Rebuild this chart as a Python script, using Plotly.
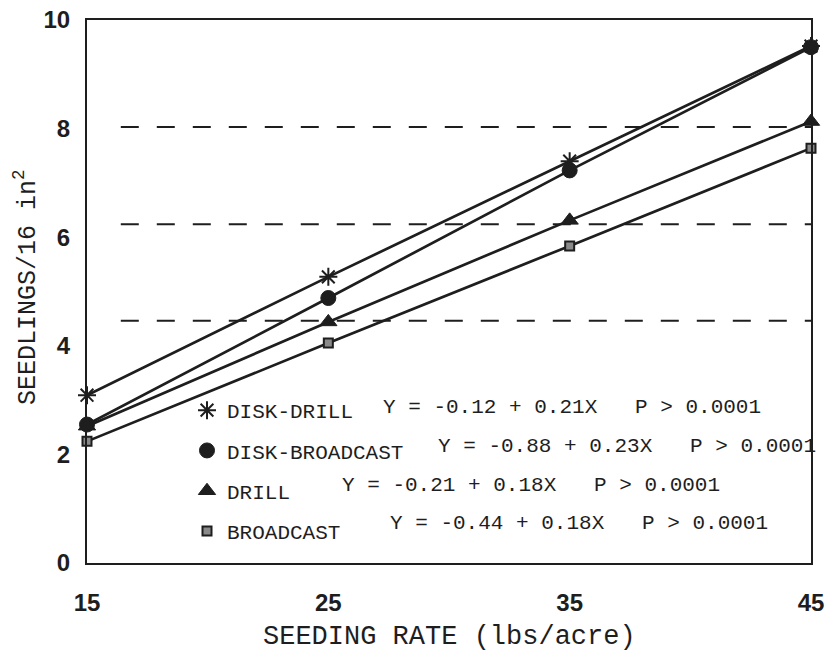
import plotly.graph_objects as go

# ---- data ----
rates = [15, 25, 35, 45]
disk_drill = [3.09, 5.27, 7.40, 9.52]
disk_broadcast = [2.55, 4.88, 7.23, 9.50]
drill = [2.52, 4.44, 6.31, 8.13]
broadcast = [2.24, 4.05, 5.84, 7.64]

series_names = ["DISK-DRILL", "DISK-BROADCAST", "DRILL", "BROADCAST"]
equations = [
    "Y = -0.12 + 0.21X   P > 0.0001",
    "Y = -0.88 + 0.23X   P > 0.0001",
    "Y = -0.21 + 0.18X   P > 0.0001",
    "Y = -0.44 + 0.18X   P > 0.0001",
]
ref_levels = [8.03, 6.24, 4.46]
ref_x = [16.4, 45]

x_ticks = [15, 25, 35, 45]
y_ticks = [0, 2, 4, 6, 8, 10]

INK = "#1e1e1e"
MONO = "Liberation Mono, Courier New, monospace"
SANS = "Liberation Sans, Arial, sans-serif"

styles = [
    dict(symbol="asterisk-open", size=15, color=INK, line=dict(color=INK, width=2)),
    dict(symbol="circle", size=15, color=INK, line=dict(color=INK, width=1)),
    dict(symbol="triangle-up", size=15, color=INK, line=dict(color=INK, width=1)),
    dict(symbol="square", size=9, color="#8a8a8a", line=dict(color=INK, width=2)),
]

fig = go.Figure()

# dashed reference lines
for lv in ref_levels:
    fig.add_trace(go.Scatter(
        x=ref_x, y=[lv, lv], mode="lines",
        line=dict(color=INK, width=2, dash="18px,18px"),
        showlegend=False, hoverinfo="skip"))

series = [disk_drill, disk_broadcast, drill, broadcast]
for name, vals, st in zip(series_names, series, styles):
    fig.add_trace(go.Scatter(
        x=rates, y=vals, mode="lines+markers", name=name,
        line=dict(color=INK, width=2.7), marker=st,
        cliponaxis=False, showlegend=False))

# legend-only entries (marker + name)
for i, (name, st) in enumerate(zip(series_names, styles)):
    fig.add_trace(go.Scatter(
        x=[None], y=[None], mode="markers", name=name, marker=st,
        legendgroup=f"g{i}", showlegend=True))

# equation annotations, next to legend rows
eq_pos = [(381, 407), (436, 446), (340, 485), (388, 523)]
W, H = 833, 656
L, R, T, B = 87, 22, 20, 93
pw, ph = W - L - R, H - T - B
for eq, (px, py) in zip(equations, eq_pos):
    fig.add_annotation(
        x=(px - L) / pw, y=(H - B - py) / ph, xref="paper", yref="paper",
        xanchor="left", yanchor="middle", text=eq, showarrow=False,
        font=dict(family=MONO, size=21, color=INK))

# axis titles
fig.add_annotation(
    x=(449 - L) / pw, y=(H - B - 637) / ph, xref="paper", yref="paper",
    text="SEEDING RATE (lbs/acre)", showarrow=False,
    xanchor="center", yanchor="middle",
    font=dict(family=MONO, size=27, color=INK))
fig.add_annotation(
    x=(26 - L) / pw, y=(H - B - 287) / ph, xref="paper", yref="paper",
    text="SEEDLINGS/16 in<sup>2</sup>", showarrow=False, textangle=-90,
    xanchor="center", yanchor="middle",
    font=dict(family=MONO, size=25, color=INK))

fig.update_layout(
    width=W, height=H,
    margin=dict(l=L, r=R, t=T, b=B, autoexpand=False),
    paper_bgcolor="white", plot_bgcolor="white",
    showlegend=True,
    legend=dict(
        x=(187 - L) / pw, y=(H - B - 390) / ph, xanchor="left", yanchor="top",
        bgcolor="rgba(0,0,0,0)", borderwidth=0,
        font=dict(family=MONO, size=21, color=INK),
        tracegroupgap=10, itemsizing="trace"),
)
fig.update_xaxes(
    range=[15, 45], tickvals=x_ticks, ticktext=[str(v) for v in x_ticks],
    showgrid=False, zeroline=False, showline=True, mirror=True,
    linecolor=INK, linewidth=2, ticks="", automargin=False,
    tickfont=dict(family=SANS, size=24, color=INK, weight="bold"),
    ticklabelstandoff=17)
fig.update_yaxes(
    range=[0, 10], tickvals=y_ticks, ticktext=[str(v) for v in y_ticks],
    showgrid=False, zeroline=False, showline=True, mirror=True,
    linecolor=INK, linewidth=2, ticks="", automargin=False,
    tickfont=dict(family=SANS, size=24, color=INK, weight="bold"),
    ticklabelstandoff=10)

fig.write_html(
    "out.html",
    config={"displayModeBar": False, "staticPlot": True},
    post_script="document.body.style.margin='0';document.body.style.overflow='hidden';",
)
